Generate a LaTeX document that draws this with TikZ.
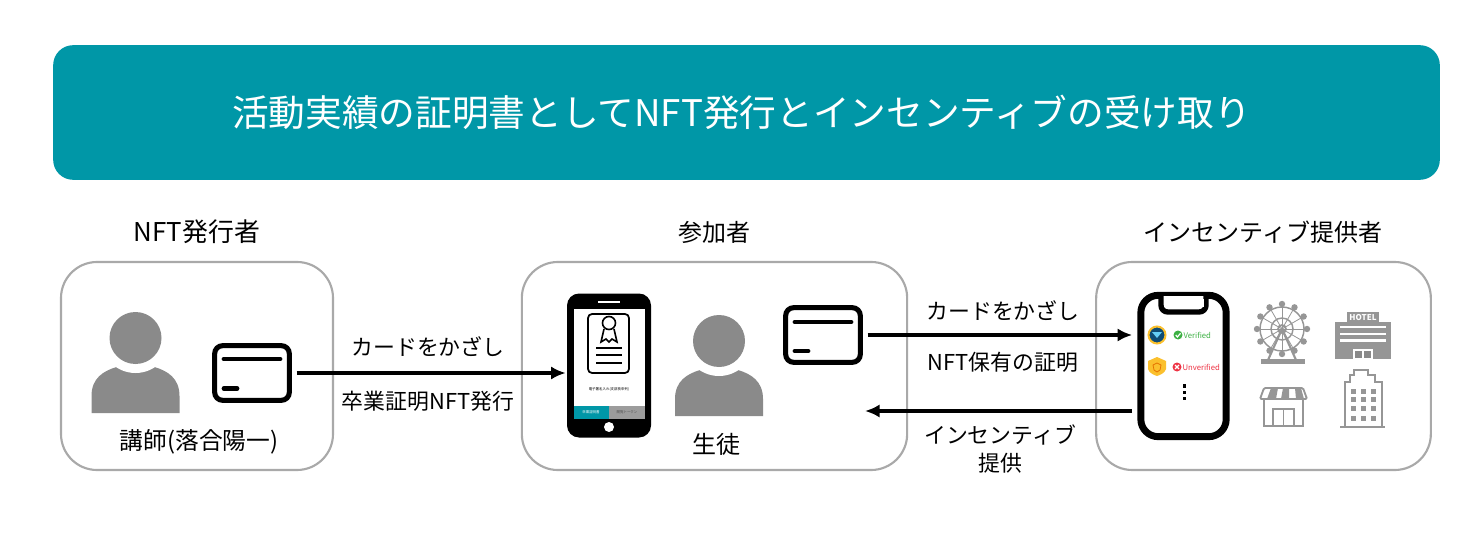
\documentclass[tikz,border=0pt]{standalone}
\usepackage{fontspec}
\setmainfont{Noto Sans CJK JP}
\definecolor{tealbar}{HTML}{0097A7}
\definecolor{boxgray}{HTML}{A9A9A9}
\definecolor{icongray}{HTML}{8A8A8A}
\definecolor{okgreen}{HTML}{3CB043}
\definecolor{ngred}{HTML}{EE3344}
\definecolor{shieldgold}{HTML}{FBC02D}
\definecolor{badgeblue}{HTML}{0F4C75}
\tikzset{
    every picture/.style={line width=0.75pt},
    rolebox/.style={draw=boxgray,line width=1.6pt,rounded corners=27pt,minimum height=156pt,inner sep=0pt},
    cardbox/.style={draw=black,line width=3.8pt,rounded corners=6pt,fill=white,minimum width=56pt,minimum height=41pt,inner sep=0pt,outer sep=5.5pt},
    phonebox/.style={fill=black,rounded corners=9pt,minimum width=63pt,minimum height=108pt,inner sep=0pt},
    flow/.style={-{Latex[length=11pt,width=10pt]},line width=3pt},
    heading/.style={font=\fontsize{18}{22}\selectfont,inner sep=0pt},
    caption/.style={font=\fontsize{16.4}{20.5}\selectfont,inner sep=0pt,align=center},
    tinytext/.style={font=\fontsize{2.6}{3}\selectfont,inner sep=0pt}
}
\usetikzlibrary{arrows.meta}
\newcommand{\personicon}[2]{
    \fill[icongray] (#1-44,#2+75) -- (#1-44,#2+58) .. controls (#1-44,#2+40) and (#1-32,#2+33) .. (#1-19,#2+29)
        -- (#1+19,#2+29) .. controls (#1+32,#2+33) and (#1+44,#2+40) .. (#1+44,#2+58) -- (#1+44,#2+75) -- cycle;
    \fill[white] (#1,#2) circle [radius=35];
    \fill[icongray] (#1,#2) circle [radius=26];
}
\begin{document}
\begin{tikzpicture}[x=0.75pt,y=0.75pt,yscale=-1]
    \useasboundingbox (0,0) rectangle (1484,552);

    \node (titlebar) [fill=tealbar,rounded corners=15pt,minimum width=1040pt,minimum height=101pt,inner sep=0pt,text=white,font=\fontsize{27.5}{32}\selectfont] at (746.5,112.5) {活動実績の証明書としてNFT発行とインセンティブの受け取り\hspace*{7.5pt}};

    \node (issuerhead) [heading,font=\fontsize{19.4}{23}\selectfont] at (197,232) {NFT発行者};
    \node (memberhead) [heading] at (714,232) {参加者};
    \node (sponsorhead) [heading] at (1263,232) {インセンティブ提供者};

    \node (issuerbox) [rolebox,minimum width=204pt] at (197,366) {};
    \node (memberbox) [rolebox,minimum width=289pt] at (714.5,366) {};
    \node (sponsorbox) [rolebox,minimum width=251pt] at (1263.5,366) {};

    % people
    \personicon{135.5}{338}
    \personicon{719}{341}
    \node (teacher) [heading,font=\fontsize{17.8}{22}\selectfont] at (199,442) {講師(落合陽一)};
    \node (student) [heading] at (716.5,444) {生徒};

    % cards
    \node (issuercard) [cardbox] at (252,373) {};
    \draw [line width=3.6pt,line cap=round] (224,359) -- (280,359) (224,388.5) -- (237,388.5);
    \node (membercard) [cardbox] at (823,335) {};
    \draw [line width=3.6pt,line cap=round] (795,322) -- (851,322) (795,351) -- (808,351);

    % member phone
    \node (memberphone) [phonebox,outer sep=1pt] at (609,365.5) {};
    \fill [white] (573.5,309) rectangle (644.5,419);
    \draw [white,line width=1.6pt] (598,302) -- (620,302);
    \fill [white] (609,427) circle [radius=5];
    \draw [line width=1.3pt,rounded corners=3pt] (588,314) rectangle (629,373);
    \draw [line width=1.2pt] (609,323) circle [radius=6.5];
    \draw [line width=1.2pt] (604,329) -- (601,342) -- (606,339) -- (609,342) -- (612,339) -- (617,342) -- (614,329);
    \foreach \yline in {348,355,363}
        \draw [line width=1.2pt] (596,\yline) -- (622,\yline);
    \node (certnote) [tinytext] at (609,389.5) {電子署名入れ(支部長申列)};
    \fill [tealbar] (573.5,406) rectangle (608.5,419);
    \fill [icongray!85] (609,406) rectangle (644.5,419);
    \node (certbtn) [tinytext,text=white] at (591,412.5) {卒業証明書};
    \node (tokenbtn) [tinytext,text=black!70] at (627,412.5) {閲覧トークン};

    % sponsor phone
    \node (sponsorphone) [draw=black,line width=5.2pt,fill=white,rounded corners=13pt,minimum width=64pt,minimum height=106pt,inner sep=0pt,outer sep=6.5pt] at (1183.5,366) {};
    \draw [line width=4pt,rounded corners=5pt,fill=white] (1161,296) -- (1161,312) -- (1206,312) -- (1206,296);
    \fill [white] (1163.5,299) rectangle (1203.5,307);
    \draw [shieldgold,line width=1.5pt,fill=badgeblue] (1157,335) circle [radius=8.5];
    \fill [cyan!60] (1152,332) -- (1162,332) -- (1157,338) -- cycle;
    \fill [shieldgold] (1148,361) -- (1157,357) -- (1166,361) -- (1166,369) .. controls (1165,373) and (1160,375) .. (1157,376) .. controls (1154,375) and (1149,373) .. (1148,369) -- cycle;
    \draw [orange!90!black,line width=0.6pt] (1157,363) -- (1161,365) -- (1160,370) -- (1157,372) -- (1154,370) -- (1153,365) -- cycle;
    \fill [okgreen] (1178,335) circle [radius=4.5];
    \draw [white,line width=0.9pt] (1175.7,335) -- (1177.4,337) -- (1180.5,333.3);
    \node (verified) [anchor=west,inner sep=0pt,text=okgreen,font=\fontsize{5.8}{7}\selectfont] at (1183,335) {Verified};
    \fill [ngred] (1177,367) circle [radius=4.5];
    \draw [white,line width=0.9pt] (1175,365) -- (1179,369) (1179,365) -- (1175,369);
    \node (unverified) [anchor=west,inner sep=0pt,text=ngred,font=\fontsize{5.8}{7}\selectfont] at (1182,367) {Unverified};
    \foreach \ydot in {386,392.5,398.5}
        \fill (1182.5,\ydot-1.7) rectangle (1185.5,\ydot+1.7);

    % ferris wheel
    \begin{scope}[icongray!90]
        \draw [line width=1.1pt] (1282,329) circle [radius=22];
        \draw [line width=1.1pt] (1282,329) circle [radius=11];
        \draw [line width=1.3pt] (1282,329) circle [radius=4];
        \foreach \ang in {0,30,...,330} {
            \draw [line width=0.6pt] (1282,329) -- ++(\ang:22);
            \fill (1282,329) ++(\ang:25) circle [radius=3.2];
        }
        \draw [line width=1.6pt] (1282,329) -- (1268,360) (1282,329) -- (1296,360);
        \fill (1261,359) rectangle (1305,364);

        % hotel
        \fill (1347,312) rectangle (1379,323);
        \node (hotelsign) [inner sep=0pt,text=white,font=\fontsize{6}{7}\selectfont\bfseries] at (1363,317.5) {HOTEL};
        \fill (1335,322) rectangle (1391,359);
        \foreach \ybar in {327,334,340.5}
            \draw [white,line width=1.6pt] (1340,\ybar) -- (1386,\ybar);
        \draw [white,fill=icongray,line width=1.2pt] (1354,350) rectangle (1363,359) (1363,350) rectangle (1372,359);

        % shop
        \draw [line width=1.4pt,rounded corners=1pt] (1264,388) -- (1303,388) -- (1307,399) -- (1260,399) -- cycle;
        \fill (1271,388) -- (1278,388) -- (1276,399) -- (1267,399) -- cycle;
        \fill (1283,388) -- (1289,388) -- (1289,399) -- (1281,399) -- cycle;
        \fill (1295,388) -- (1301,388) -- (1304,399) -- (1296,399) -- cycle;
        \draw [line width=1.4pt] (1264,399) -- (1264,426) -- (1303,426) -- (1303,399);
        \draw [line width=1.4pt] (1273,426) -- (1273,409) -- (1294,409) -- (1294,426) (1283.5,409) -- (1283.5,426);

        % office building
        \draw [line width=1.3pt] (1345,427) -- (1345,382) -- (1350,382) -- (1350,375) -- (1354,375) -- (1354,370) -- (1368,370) -- (1368,375) -- (1375,375) -- (1375,382) -- (1382,382) -- (1382,427);
        \draw [line width=1.3pt] (1340,427) -- (1385,427);
        \foreach \xwin in {1353,1363,1373}
            \foreach \ywin in {391,399,408,418}
                \fill (\xwin-2.5,\ywin-2.5) rectangle (\xwin+2.5,\ywin+2.5);
    \end{scope}

    % flows
    \coordinate (backend) at (865,411);
    \draw [flow] (issuercard.east) -- (memberphone.west |- issuercard.east);
    \draw [flow] (membercard.east) -- (sponsorphone.west |- membercard.east);
    \draw [flow] (sponsorphone.west |- backend) -- (backend);

    \node (touchA) [caption] at (428,347) {カードをかざし};
    \node (graduate) [caption] at (428,401) {卒業証明NFT発行};
    \node (touchB) [caption] at (1003,311) {カードをかざし};
    \node (holding) [caption] at (1003,362) {NFT保有の証明};
    \node (reward) [caption,text width=170pt] at (1000,449) {インセンティブ\\提供};
\end{tikzpicture}
\end{document}
